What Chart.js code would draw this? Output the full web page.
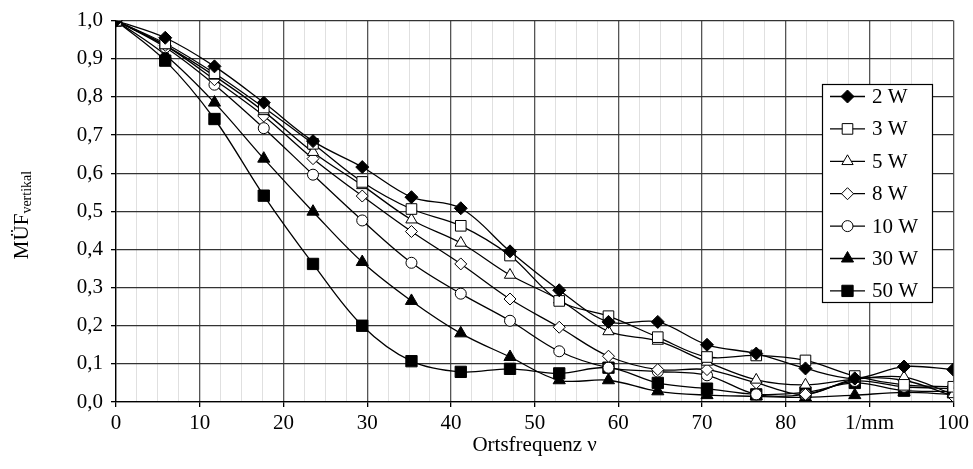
<!DOCTYPE html>
<html><head><meta charset="utf-8">
<script src="https://cdn.jsdelivr.net/npm/chart.js@4/dist/chart.umd.min.js"></script>
<style>html,body{margin:0;padding:0;background:#fff}#wrap{width:973px;height:469px}</style>
</head><body><div id="wrap"><canvas id="c" width="973" height="469"></canvas></div>
<script>
// ---- data ----
const frequencies = [0, 5.88, 11.76, 17.65, 23.53, 29.41, 35.29, 41.18, 47.06, 52.94, 58.82, 64.71, 70.59, 76.47, 82.35, 88.24, 94.12, 100];
const seriesLabels = ['2 W', '3 W', '5 W', '8 W', '10 W', '30 W', '50 W'];
const mtf2W  = [1.0, 0.955, 0.88, 0.785, 0.684, 0.616, 0.537, 0.508, 0.395, 0.293, 0.21, 0.21, 0.15, 0.127, 0.088, 0.062, 0.093, 0.085];
const mtf3W  = [1.0, 0.94, 0.862, 0.772, 0.677, 0.577, 0.506, 0.462, 0.384, 0.265, 0.225, 0.17, 0.118, 0.122, 0.109, 0.068, 0.045, 0.04];
const mtf5W  = [1.0, 0.935, 0.855, 0.762, 0.655, 0.568, 0.478, 0.417, 0.333, 0.268, 0.185, 0.16, 0.105, 0.058, 0.045, 0.06, 0.065, 0.02];
const mtf8W  = [1.0, 0.935, 0.845, 0.75, 0.638, 0.54, 0.447, 0.362, 0.27, 0.196, 0.12, 0.085, 0.085, 0.05, 0.02, 0.06, 0.057, 0.015];
const mtf10W = [1.0, 0.93, 0.832, 0.718, 0.596, 0.476, 0.365, 0.284, 0.213, 0.133, 0.09, 0.08, 0.07, 0.02, 0.02, 0.055, 0.04, 0.035];
const mtf30W = [1.0, 0.91, 0.785, 0.638, 0.499, 0.367, 0.265, 0.18, 0.118, 0.057, 0.057, 0.028, 0.018, 0.015, 0.012, 0.018, 0.025, 0.02];
const mtf50W = [1.0, 0.895, 0.742, 0.541, 0.362, 0.2, 0.107, 0.079, 0.087, 0.075, 0.09, 0.05, 0.035, 0.02, 0.025, 0.05, 0.03, 0.028];
const xTickLabels = {0:'0',10:'10',20:'20',30:'30',40:'40',50:'50',60:'60',70:'70',80:'80',90:'1/mm',100:'100'};
const xTitle = 'Ortsfrequenz ν';
const yTitleMain = 'MÜF';
const yTitleSub = 'vertikal';

const seriesValues = [mtf2W, mtf3W, mtf5W, mtf8W, mtf10W, mtf30W, mtf50W];
const markerStyles = [
  {style:'rectRot', r:6.5, fill:'#000'},
  {style:'rect', r:7.5, fill:'#fff'},
  {style:'triangle', r:6.5, fill:'#fff'},
  {style:'rectRot', r:6, fill:'#fff'},
  {style:'circle', r:5.5, fill:'#fff'},
  {style:'triangle', r:7, fill:'#000'},
  {style:'rect', r:8, fill:'#000'}
];
const FONT = "'Liberation Serif', 'Times New Roman', serif";

const datasets = seriesLabels.map((lab, i) => ({
  label: lab,
  data: frequencies.map((f, j) => ({x: f, y: seriesValues[i][j]})),
  borderColor: '#000',
  borderWidth: 1.3,
  backgroundColor: markerStyles[i].fill,
  pointStyle: markerStyles[i].style,
  pointRadius: markerStyles[i].r,
  pointBackgroundColor: markerStyles[i].fill,
  pointBorderColor: '#000',
  pointBorderWidth: 1,
  tension: 0.35,
  fill: false
}));

function drawMarker(ctx, style, x, y, r, fill) {
  ctx.save();
  ctx.beginPath();
  if (style === 'circle') {
    ctx.arc(x, y, r, 0, Math.PI * 2);
  } else if (style === 'rect') {
    const s = r * Math.SQRT1_2;
    ctx.rect(x - s, y - s, 2 * s, 2 * s);
  } else if (style === 'rectRot') {
    ctx.moveTo(x, y - r); ctx.lineTo(x + r, y); ctx.lineTo(x, y + r); ctx.lineTo(x - r, y); ctx.closePath();
  } else if (style === 'triangle') {
    ctx.moveTo(x, y - r);
    ctx.lineTo(x + r * Math.cos(Math.PI / 6), y + r * 0.5);
    ctx.lineTo(x - r * Math.cos(Math.PI / 6), y + r * 0.5);
    ctx.closePath();
  }
  ctx.fillStyle = fill; ctx.fill();
  ctx.lineWidth = 1; ctx.strokeStyle = '#000'; ctx.stroke();
  ctx.restore();
}

const legendPlugin = {
  id: 'boxLegend',
  afterDraw(chart) {
    const ctx = chart.ctx;
    const bx = 822.5, by = 84.5, bw = 110, bh = 218;
    ctx.save();
    ctx.fillStyle = '#fff';
    ctx.fillRect(bx, by, bw, bh);
    ctx.strokeStyle = '#000'; ctx.lineWidth = 1.2;
    ctx.strokeRect(bx, by, bw, bh);
    ctx.font = '21px ' + FONT;
    ctx.textBaseline = 'middle';
    ctx.fillStyle = '#000';
    seriesLabels.forEach((lab, i) => {
      const y = 96.5 + i * 32.4;
      ctx.beginPath(); ctx.moveTo(830, y); ctx.lineTo(865, y);
      ctx.lineWidth = 1.3; ctx.strokeStyle = '#000'; ctx.stroke();
      const m = markerStyles[i];
      drawMarker(ctx, m.style, 847.5, y, m.r, m.fill);
      ctx.fillStyle = '#000';
      ctx.fillText(lab, 872, y + 1);
    });
    ctx.restore();
  }
};

const yTitlePlugin = {
  id: 'yTitle',
  afterDraw(chart) {
    const ctx = chart.ctx;
    ctx.save();
    ctx.translate(22, 215);
    ctx.rotate(-Math.PI / 2);
    ctx.fillStyle = '#000';
    ctx.textBaseline = 'middle';
    ctx.font = '21px ' + FONT;
    const w1 = ctx.measureText(yTitleMain).width;
    ctx.font = '14px ' + FONT;
    const w2 = ctx.measureText(yTitleSub).width;
    const start = -(w1 + w2) / 2;
    ctx.font = '21px ' + FONT;
    ctx.fillText(yTitleMain, start, 0);
    ctx.font = '14px ' + FONT;
    ctx.fillText(yTitleSub, start + w1, 5);
    ctx.restore();
  }
};

new Chart(document.getElementById('c'), {
  type: 'line',
  data: { datasets },
  options: {
    responsive: false,
    animation: false,
    devicePixelRatio: 1,
    layout: { padding: { top: 17, right: 18, left: 0, bottom: 11 } },
    plugins: { legend: { display: false }, tooltip: { enabled: false } },
    scales: {
      x: {
        type: 'linear', min: 0, max: 100,
        afterBuildTicks(scale) {
          const t = [];
          for (let v = 0; v <= 100; v += 2.5) t.push({ value: v });
          scale.ticks = t;
        },
        afterFit(scale) { scale.height = 56; },
        ticks: {
          autoSkip: false, maxRotation: 0,
          color: '#000', font: { family: FONT, size: 21 }, padding: 4,
          callback: (v) => (xTickLabels[v] !== undefined ? xTickLabels[v] : '')
        },
        grid: {
          color: (c) => (c.tick && c.tick.value % 10 === 0 ? '#555' : '#e0e0e0'),
          lineWidth: (c) => (c.tick && c.tick.value % 10 === 0 ? 1.3 : 1),
          tickColor: (c) => (c.tick && c.tick.value % 10 === 0 ? '#000' : 'rgba(0,0,0,0)'),
          tickLength: 5
        },
        border: { color: '#000', width: 1.3 },
        title: { display: true, text: xTitle, color: '#000', font: { family: FONT, size: 21 }, padding: { top: 0, bottom: 0 } }
      },
      y: {
        min: 0, max: 1,
        afterFit(scale) { scale.width = 116; },
        ticks: {
          stepSize: 0.1, color: '#000', font: { family: FONT, size: 21 }, padding: 8,
          callback: (v) => v.toFixed(1).replace('.', ',')
        },
        grid: { color: '#333', lineWidth: 1.3, tickColor: '#000', tickLength: 5 },
        border: { color: '#000', width: 1.3 }
      }
    }
  },
  plugins: [legendPlugin, yTitlePlugin]
});
</script>
</body></html>
